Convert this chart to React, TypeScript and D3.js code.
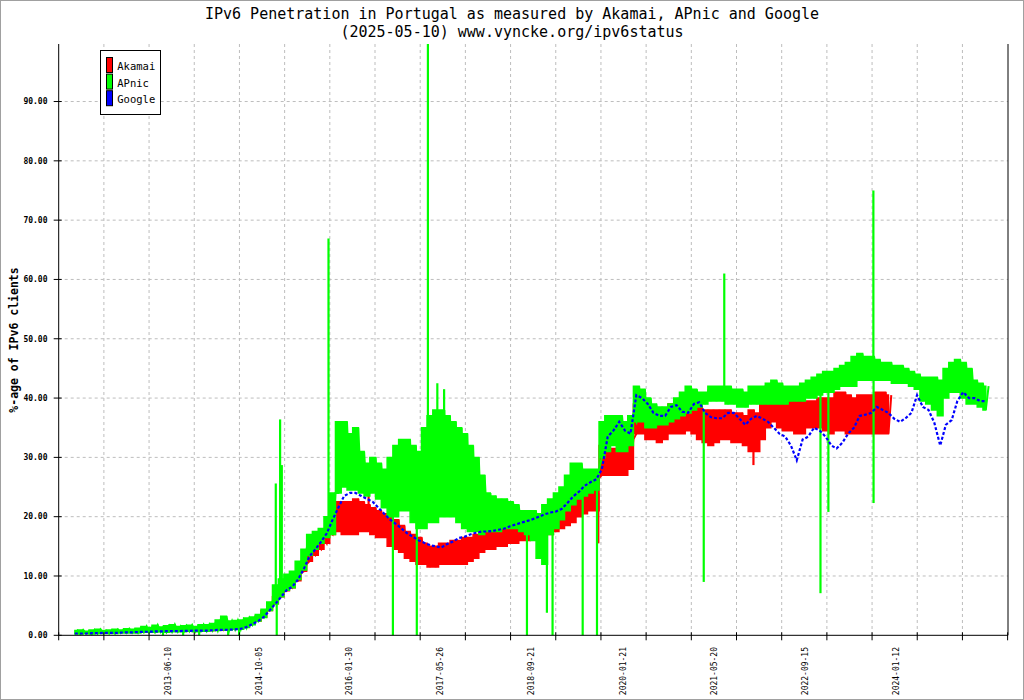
import React from "react";
import * as d3 from "d3";

const TITLE = "IPv6 Penetration in Portugal as measured by Akamai, APnic and Google";
const SUBTITLE = "(2025-05-10) www.vyncke.org/ipv6status";
const Y_LABEL = "%-age of IPv6 clients";

const seriesNames = ["Akamai", "APnic", "Google"];
const seriesColors = ["#ff0000", "#00ff00", "#0000ff"];

const xLabels = [
  "2013-06-10", "2014-10-05", "2016-01-30", "2017-05-26", "2018-09-21",
  "2020-01-21", "2021-05-20", "2022-09-15", "2024-01-12",
];
const yTicks = [0, 10, 20, 30, 40, 50, 60, 70, 80, 90];

// monthly samples (1st of month): low / high of the daily noise
const apnicStart = "2012-02-01";
const apnicHigh = [
  0.8, 0.9, 0.7, 0.9, 1.0, 0.8, 0.9, 1.0, 0.9, 1.1, 1.0,
  1.2, 1.5, 1.3, 1.7, 1.4, 1.6, 1.8, 1.5, 1.6, 1.7, 1.5, 1.8,
  1.8, 2.0, 2.6, 3.2, 2.4, 2.5, 2.6, 2.9, 3.1, 3.5, 4.4, 5.6,
  8.5, 9.5, 10.3, 10.8, 12.5, 14.5, 17, 17.5, 18, 20, 24, 36,
  36, 34, 35, 31, 29, 30, 29, 28, 30, 32, 33, 33,
  32, 31, 35, 37, 38, 38, 37, 36, 35, 34, 32, 30,
  27, 24, 23.5, 23, 23, 22.5, 22, 21, 21, 21, 20.5, 22,
  23, 24, 25, 27, 29, 29, 28, 28, 28, 36, 37, 37,
  37, 36, 37, 42, 41.5, 40, 39, 38.5, 38.5, 39, 40, 41,
  42, 41.5, 41, 41, 42, 42, 42, 42, 41.5, 41.5, 41, 42,
  42, 42, 42.5, 43, 42.5, 42, 42, 42, 42.5, 43, 43.5, 44,
  44.5, 44.5, 45, 45.5, 46, 47, 47.5, 47, 47, 46.5, 46, 46,
  45.5, 45.5, 45, 44.5, 44, 43.5, 43.5, 43.5, 43, 45, 46, 46.5,
  46, 45, 43, 42.5, 42,
];
const apnicLow = [
  0.2, 0.2, 0.3, 0.2, 0.3, 0.3, 0.3, 0.3, 0.4, 0.4, 0.4,
  0.4, 0.5, 0.5, 0.5, 0.6, 0.5, 0.6, 0.6, 0.6, 0.7, 0.6, 0.7,
  0.7, 0.8, 0.8, 0.9, 0.9, 1.0, 1.0, 1.3, 1.8, 2.4, 3.0, 4.2,
  5.3, 6.5, 7.6, 8.0, 9.4, 11, 13.5, 14.5, 15.5, 16.5, 17, 24,
  25, 24.5, 24.5, 24, 23.5, 24, 23, 21.5, 20, 20, 21, 21,
  19, 18, 18, 19, 19, 20, 20, 20, 19, 18, 17.5, 17.5,
  17, 17.5, 17.5, 17.5, 18, 18, 18, 17.5, 17, 16, 13, 12,
  17, 18, 19.5, 21, 22, 23, 23.5, 24, 24.5, 30, 31, 32,
  31, 31, 32, 36, 36, 35, 35, 35.5, 35.5, 36, 36.5, 37,
  37.5, 38, 38.5, 39, 39.5, 39.5, 39.5, 39, 39, 38.5, 38.5, 39,
  39, 39, 39, 39, 39, 39, 39.5, 39.5, 39.5, 40, 40, 40.5,
  41, 41, 41.5, 42, 42, 42, 43, 43, 43, 43, 43, 43,
  42.5, 42.5, 42.5, 42, 41.5, 39.5, 39, 38, 37, 40, 41, 41,
  40, 39, 39, 38.5, 38,
];

const akamaiStart = "2013-10-01";
const akamaiHigh = [
  1.1, 1.2, 1.2,
  1.2, 1.3, 1.4, 1.4, 1.5, 1.6, 1.8, 2.2, 2.6, 3.2, 4.2, 5.2,
  6.5, 7.5, 8.5, 9.2, 10.5, 12, 14, 15, 16.5, 17.5, 21, 22.5,
  22.5, 22.5, 23, 22.5, 22, 21.5, 21, 20.5, 20, 19.5, 18.5, 17.5,
  17, 16.5, 15.5, 15, 15, 15.5, 15.5, 16, 16, 16.5, 16.5, 17,
  17.5, 17.5, 18, 18, 18, 18.5, 18.5, 19, 19.5, 19.5, 20, 20.5,
  20.5, 21, 22, 23, 24, 25, 25.5, 26, 26.5, 32, 31.5, 31.5,
  31.5, 32, 33, 39, 38.5, 37.5, 36.5, 36, 37, 39, 39, 39.5,
  39.5, 39, 38.5, 38, 38, 38, 38, 38, 37.5, 37.5, 37, 38,
  37.5, 40, 42, 42.5, 41.5, 41, 40.5, 40, 39.5, 39.5, 39.5, 40,
  40, 40, 41, 41, 40.5, 40, 40.5, 40.5, 40.5, 41, 41, 40.5,
];
const akamaiLow = [
  0.7, 0.7, 0.8,
  0.8, 0.8, 0.9, 0.9, 1.0, 1.0, 1.2, 1.5, 1.9, 2.4, 3.1, 4.2,
  5.3, 6.5, 7.5, 8.0, 9.2, 10.8, 12.5, 13.5, 14.5, 15.5, 17, 17.5,
  17, 17, 17, 17.5, 17.5, 17, 16.5, 16.5, 15, 14.5, 14, 13,
  12.5, 12, 12, 11.5, 11.5, 12, 12, 12, 12, 12, 12.5, 13,
  14, 14.5, 14.5, 15, 15, 15.5, 15.5, 16, 16, 16.5, 16.5, 17,
  17, 17.5, 18, 18.5, 19, 20, 20.5, 21, 21, 27, 27, 27,
  27, 27, 28, 34, 34, 33, 33, 32.5, 33, 34, 34, 34,
  34.5, 34, 33, 32.5, 32, 32.5, 33, 33, 32.5, 32.5, 32, 31,
  31, 33, 35, 36, 35, 34.5, 34.5, 34, 34, 35, 35, 35,
  34.5, 34, 34.5, 34.5, 34, 34, 34, 34, 34, 34, 34, 34,
];

const googleStart = "2012-02-01";
const googleValues = [
  0.3, 0.3, 0.3, 0.35, 0.35, 0.4, 0.4, 0.4, 0.45, 0.5, 0.5,
  0.55, 0.6, 0.6, 0.65, 0.65, 0.7, 0.7, 0.7, 0.75, 0.75, 0.8, 0.8,
  0.8, 0.85, 0.9, 0.9, 0.95, 1.0, 1.1, 1.4, 1.9, 2.4, 3.1, 4.2,
  5.3, 6.5, 7.6, 8.2, 9.4, 11.2, 13.3, 14.5, 15.8, 17.2, 19.5, 21.5,
  23.5, 24, 24, 23.5, 23, 22.5, 21.5, 20.5, 19.5, 18.8, 18.0, 17.2,
  16.6, 16.0, 15.6, 15.2, 15.0, 14.8, 15.4, 15.8, 16.4, 16.6, 17.0, 17.3,
  17.5, 17.5, 17.6, 17.8, 18.0, 18.4, 18.7, 19.0, 19.3, 19.6, 20.0, 20.4,
  20.7, 20.9, 21.3, 22.3, 23.4, 24.2, 25.2, 25.8, 26.3, 28, 33.5, 34.5,
  36, 34.5, 34, 40.5, 40, 39, 37.5, 37, 37, 38.5, 38.8, 37.7,
  37.5, 39, 39.3, 37.5, 36.8, 36.6, 36.6, 37.5, 37.5, 36.5, 35.5, 36.5,
  37, 36.5, 36, 35, 34, 33.5, 32, 29.5, 33, 33.5, 35, 34.5,
  33.5, 32, 31.5, 32.5, 34, 35, 37, 37.2, 37.5, 38.5, 38, 37.5,
  36.5, 36, 36.6, 37.5, 40.5, 38.5, 38, 35.8, 32, 35.5, 36.3, 39.5,
  41, 40, 40, 39.5, 39.5,
];

// single-day outliers: [date, from, to]
const apnicSpikes: [string, number, number][] = [
  ["2013-05-14", 1.2, 0], ["2013-08-29", 1.2, 0], ["2013-11-22", 1.4, 0],
  ["2014-04-25", 1.5, 0], ["2014-06-22", 1.8, 0],
  ["2015-01-03", 6, 25.6], ["2015-01-08", 6, 0], ["2015-01-26", 7, 36.4],
  ["2015-02-04", 8, 28.7], ["2015-10-10", 18, 66.9],
  ["2016-09-16", 22, 0], ["2017-01-21", 20, 0], ["2017-03-21", 22, 99.7],
  ["2017-05-10", 30, 42.5], ["2017-06-15", 30, 41.5],
  ["2018-08-29", 18, 0], ["2018-12-13", 16, 3.8], ["2019-01-12", 18, 0],
  ["2019-06-21", 24, 0], ["2019-09-05", 25, 0],
  ["2021-03-25", 38, 9], ["2021-07-12", 41, 61],
  ["2022-12-05", 41, 7.1], ["2023-01-16", 41, 20.8],
  ["2023-09-12", 44, 75], ["2023-09-13", 44, 22.3],
];
const akamaiSpikes: [string, number, number][] = [
  ["2016-05-10", 22, 25.3], ["2019-09-12", 24, 15.5], ["2021-12-14", 32, 28.7],
];

const parse = d3.utcParse("%Y-%m-%d");
const xStart = parse("2011-11-07")!;
const xEnd = parse("2025-08-27")!;
const tickStepDays = 240;

type Band = { d: Date; lo: number; hi: number };

const band = (start: string, low: number[], high: number[]): Band[] => {
  const s = parse(start)!;
  return low.map((lo, i) => ({ d: d3.utcMonth.offset(s, i), lo, hi: high[i] }));
};

const zigzag = (rows: Band[]) =>
  rows.flatMap((r) => [
    [r.d, r.lo],
    [d3.utcDay.offset(r.d, 15), r.hi],
  ] as [Date, number][]);

const monthly = (start: string, vals: number[]) => {
  const s = parse(start)!;
  return vals.map((v, i) => [d3.utcMonth.offset(s, i), v] as [Date, number]);
};

export default function App() {
  const left = 58.7, right = 1008, top = 44, bottom = 635.3;
  const x = d3.scaleUtc().domain([xStart, xEnd]).range([left, right]);
  const y = d3.scaleLinear().domain([0, 99.7]).range([bottom, top]);
  const line = d3
    .line<[Date, number]>()
    .x((d) => x(d[0]))
    .y((d) => y(d[1]));
  const area = d3
    .area<Band>()
    .x((d) => x(d.d))
    .y0((d) => y(d.lo))
    .y1((d) => y(d.hi))
    .curve(d3.curveStep);

  const akamai = band(akamaiStart, akamaiLow, akamaiHigh);
  const apnic = band(apnicStart, apnicLow, apnicHigh);

  const xTicks = d3.range(0, 22).map((k) => d3.utcDay.offset(xStart, k * tickStepDays));
  const mono = "'DejaVu Sans Mono', monospace";

  const spikes = (list: [string, number, number][], color: string) =>
    list.map(([d, a, b], i) => (
      <line key={i} x1={x(parse(d)!)} x2={x(parse(d)!)} y1={y(a)} y2={y(b)} stroke={color} strokeWidth={2.2} />
    ));

  return (
    <svg width={1024} height={700} style={{ position: "absolute", left: 0, top: 0, background: "#fff" }}>
      <rect x={0.5} y={0.5} width={1023} height={699} fill="#fff" stroke="#a0a0a0" />
      <text x={512} y={18.5} textAnchor="middle" fontFamily={mono} fontSize={15}>{TITLE}</text>
      <text x={512} y={36.5} textAnchor="middle" fontFamily={mono} fontSize={15}>{SUBTITLE}</text>

      {/* grid */}
      {yTicks.filter((t) => t > 0).map((t) => (
        <line key={"gy" + t} x1={left} x2={right} y1={y(t)} y2={y(t)} stroke="#bdbdbd" strokeDasharray="3,3" />
      ))}
      {xTicks.slice(1, -1).map((t, i) => (
        <line key={"gx" + i} x1={x(t)} x2={x(t)} y1={top} y2={bottom} stroke="#bdbdbd" strokeDasharray="3,3" />
      ))}

      {/* series */}
      <path d={area(akamai)!} fill={seriesColors[0]} stroke={seriesColors[0]} strokeWidth={1.5} />
      <path d={line(zigzag(akamai))!} fill="none" stroke={seriesColors[0]} strokeWidth={2} />
      {spikes(akamaiSpikes, seriesColors[0])}
      <path d={area(apnic)!} fill={seriesColors[1]} stroke={seriesColors[1]} strokeWidth={1.5} />
      <path d={line(zigzag(apnic))!} fill="none" stroke={seriesColors[1]} strokeWidth={2} />
      {spikes(apnicSpikes, seriesColors[1])}
      <path d={line(monthly(googleStart, googleValues))!} fill="none" stroke={seriesColors[2]} strokeWidth={2.2} strokeDasharray="3,2" />

      {/* axes */}
      <line x1={left} x2={left} y1={top} y2={bottom} stroke="#000" />
      <line x1={right} x2={right} y1={top} y2={bottom} stroke="#000" />
      <line x1={left} x2={right} y1={bottom} y2={bottom} stroke="#000" />
      {yTicks.map((t) => (
        <g key={"ty" + t}>
          <line x1={left - 5} x2={left + 3} y1={y(t)} y2={y(t)} stroke="#000" />
          <text x={47.5} y={y(t)} dy="0.35em" textAnchor="end" fontFamily={mono} fontSize={8} fontWeight="bold">
            {t.toFixed(2)}
          </text>
        </g>
      ))}
      {xTicks.map((t, i) => (
        <line key={"tx" + i} x1={x(t)} x2={x(t)} y1={bottom - 3} y2={bottom + 5} stroke="#000" />
      ))}
      {xLabels.map((l) => (
        <text
          key={l}
          transform={`translate(${x(parse(l)!)},647) rotate(-90)`}
          textAnchor="end"
          dy="0.35em"
          fontFamily={mono}
          fontSize={8}
        >
          {l}
        </text>
      ))}
      <text transform="translate(14,340) rotate(-90)" textAnchor="middle" dy="0.35em" fontFamily={mono} fontSize={11.5} fontWeight="bold">
        {Y_LABEL}
      </text>

      {/* legend */}
      <rect x={100.5} y={50.5} width={60} height={64} fill="#fff" stroke="#000" />
      {seriesNames.map((n, i) => (
        <g key={n}>
          <rect x={106.5} y={57.5 + i * 16.6} width={6} height={15} fill={seriesColors[i]} stroke="#000" />
          <text x={117.3} y={70 + i * 16.6} fontFamily={mono} fontSize={10.5}>{n}</text>
        </g>
      ))}
    </svg>
  );
}
